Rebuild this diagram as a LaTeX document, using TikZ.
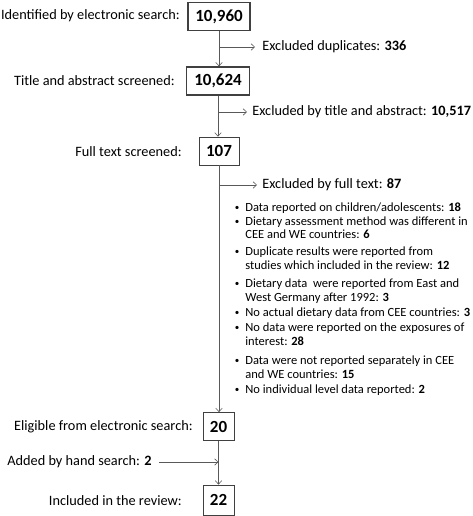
\documentclass[tikz,border=0pt]{standalone}
\usepackage{fontspec}
\setmainfont{Carlito}
\usetikzlibrary{arrows.meta}
\begin{document}
\begin{tikzpicture}[x=1pt,y=-1pt,
  line width=0.7pt,
  con/.style={draw=black!65, line width=0.7pt},
  arr/.style={con, -{Straight Barb[length=3.5pt,width=6.5pt,line width=0.6pt]}},
  numbox/.style={draw=black!75, line width=0.8pt, minimum height=28pt, inner sep=0pt, font=\fontsize{17}{20}\selectfont\bfseries},
  lab/.style={anchor=east, inner sep=0pt, text height=10.5pt, text depth=3.5pt, font=\fontsize{14.3}{17}\selectfont},
  exc/.style={anchor=west, inner sep=0pt, text height=10.5pt, text depth=3.5pt, font=\fontsize{14.3}{17}\selectfont},
  bl/.style={anchor=west, inner sep=0pt, text height=9pt, text depth=3pt, font=\fontsize{12.5}{14}\selectfont},
  bul/.style={anchor=center, inner sep=0pt, font=\fontsize{9}{11}\selectfont}]
\useasboundingbox (0,0) rectangle (472,516);
% boxes
\node[numbox, minimum width=62pt, line width=1.3pt] (b1) at (219,16.5) {10,960};
\node[numbox, minimum width=63pt, line width=1.3pt] (b2) at (218,81) {10,624};
\node[numbox, minimum width=40pt] (b3) at (219,151) {107};
\node[numbox, minimum width=31pt, minimum height=28pt] (b4) at (218.5,426.5) {20};
\node[numbox, minimum width=31pt, minimum height=30pt] (b5) at (218.5,500) {22};
% left labels
\node[lab] (t1) at (180,16) {Identified by electronic search:};
\node[lab] (t2) at (175,82) {Title and abstract screened:};
\node[lab] (t3) at (182,153) {Full text screened:};
\node[lab] (t4) at (193,427) {Eligible from electronic search:};
\node[lab, anchor=west] (t5) at (7,462) {Added by hand search: \textbf{2}};
\node[lab] (t6) at (182,502) {Included in the review:};
% exclusions
\node[exc] (e1) at (262,47) {Excluded duplicates: \textbf{336}};
\node[exc] (e2) at (252,112) {Excluded by title and abstract: \textbf{10,517}};
\node[exc] (e3) at (262,185) {Excluded by full text: \textbf{87}};
% connectors
\draw[arr] (b1.south) -- (b1.south |- b2.north);
\coordinate (c1) at (b1.south |- e1.west);
\draw[arr] (c1) -- ([xshift=-7pt]e1.west);
\draw[arr] (b2.south) -- (b2.south |- b3.north);
\coordinate (c2) at (b2.south |- e2.west);
\draw[arr] (c2) -- ([xshift=-5pt]e2.west);
\draw[arr] (b3.south) -- (b3.south |- b4.north);
\coordinate (c3) at (b3.south |- e3.west);
\draw[arr] (c3) -- ([xshift=-5pt]e3.west);
\draw[arr] (b4.south) -- (b4.south |- b5.north);
\coordinate (c4) at (b4.south |- t5.east);
\draw[arr] ([xshift=7pt]t5.east) -- (c4);
% bullet list
\foreach \y/\n in {208/1,222/2,252.5/3,284/4,313/5,328/6,361.5/7,390/8}
  \node[bul] (d\n) at (237,\y) {\textbullet};
\node[bl] (l1) at (245,208) {Data reported on children/adolescents: \textbf{18}};
\node[bl] (l2) at (245,222) {Dietary assessment method was different in};
\node[bl] (l3) at (245,235.5) {CEE and WE countries: \textbf{6}};
\node[bl] (l4) at (245,252.5) {Duplicate results were reported from};
\node[bl] (l5) at (245,266) {studies which included in the review: \textbf{12}};
\node[bl] (l6) at (245,284) {Dietary data\ \ were reported from East and};
\node[bl] (l7) at (245,298.5) {West Germany after 1992: \textbf{3}};
\node[bl] (l8) at (245,313) {No actual dietary data from CEE countries: \textbf{3}};
\node[bl] (l9) at (245,328) {No data were reported on the exposures of};
\node[bl] (l10) at (245,342.5) {interest: \textbf{28}};
\node[bl] (l11) at (245,361.5) {Data were not reported separately in CEE};
\node[bl] (l12) at (245,375) {and WE countries: \textbf{15}};
\node[bl] (l13) at (245,390) {No individual level data reported: \textbf{2}};
\end{tikzpicture}
\end{document}
